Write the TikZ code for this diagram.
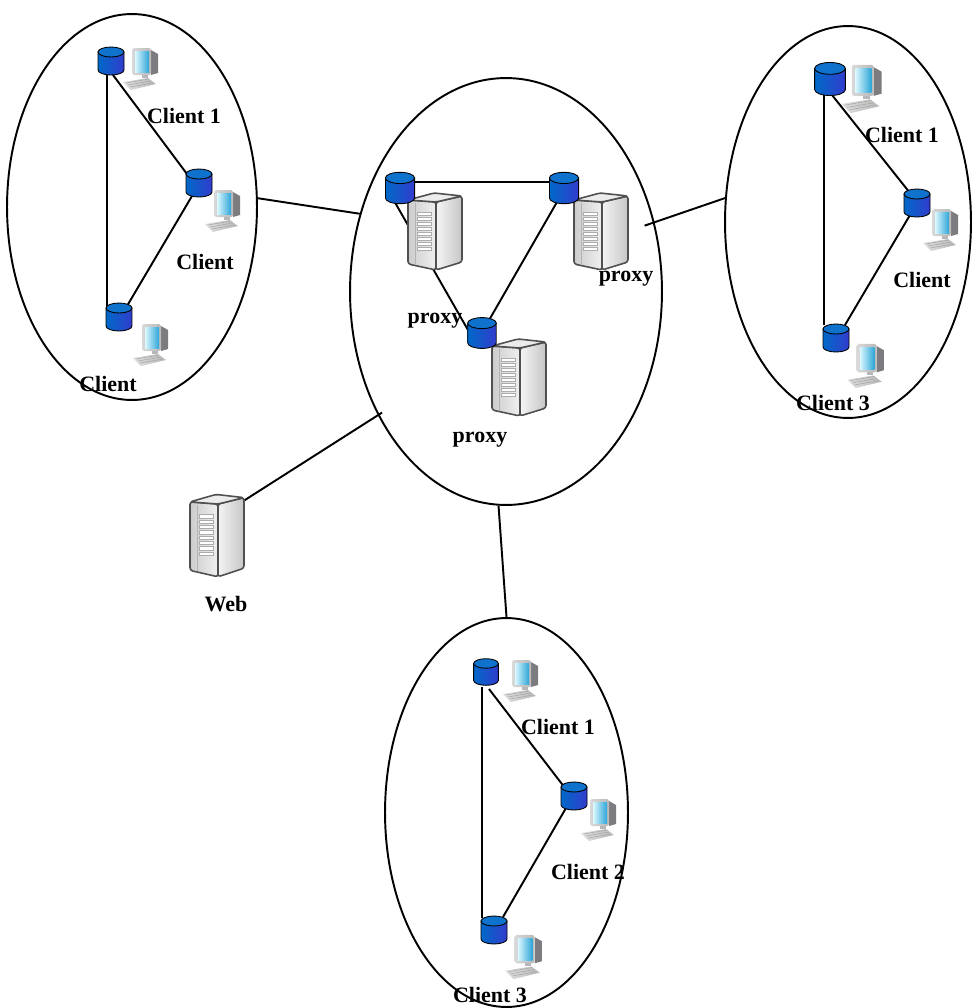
\documentclass[tikz,border=0pt]{standalone}
\usepackage{fontspec}
\setmainfont{Liberation Serif}
\usetikzlibrary{shapes.geometric,calc}

\definecolor{dbtop}{RGB}{15,115,205}
\definecolor{dbleft}{RGB}{0,105,200}
\definecolor{dbright}{RGB}{50,60,205}
\definecolor{scrlight}{RGB}{220,248,255}
\definecolor{scrdark}{RGB}{45,165,215}
\definecolor{casing}{RGB}{165,165,170}
\definecolor{srvedge}{RGB}{80,80,80}

\tikzset{
  zone/.style={draw, ellipse, line width=1.1pt, inner sep=0pt},
  link/.style={line width=1.1pt},
  spot/.style={inner sep=0pt, minimum width=0.5cm, minimum height=0.56cm},
  srvspot/.style={inner sep=0pt, minimum width=1.04cm, minimum height=1.72cm},
  lbl/.style={inner sep=0pt, font=\fontsize{12.5}{14}\selectfont\bfseries},
  % blue database cylinder
  dbicon/.pic={
    \path[left color=dbleft, right color=dbright, draw=black, line width=0.5pt]
      (-13,-9) -- (-13,9) arc[start angle=180, end angle=0, x radius=13, y radius=5]
      -- (13,-9) -- cycle;
    \draw[fill=dbtop, line width=0.5pt] (0,-9) ellipse[x radius=13, y radius=5];
  },
  % desktop computer with keyboard
  pcicon/.pic={
    \fill[casing!75!black] (11,-19) -- (18,-15) -- (18,4) -- (11,6) -- cycle;
    \path[left color=gray!30, right color=gray!55, rounded corners=1pt]
      (-8,-21) rectangle (11,6);
    \path[left color=scrlight, right color=scrdark] (-5,-18) rectangle (9,3);
    \fill[casing!80] (2,6) rectangle (8,9);
    \path[left color=gray!25, right color=gray!55]
      (-17,13) -- (8,9) -- (16,15) -- (-9,21) -- cycle;
    \foreach \k in {0,1,2}
      \draw[gray!70, line width=0.3pt] (-14+2*\k,14+2*\k) -- (9+2*\k,10+2*\k);
  },
  % grey tower server
  servericon/.pic={
    \path[left color=gray!40, right color=gray!12, draw=srvedge, line width=0.9pt,
      line join=round, rounded corners=1.5pt]
      (-26,-30) -- (2,-28) -- (2,40) -- (-26,34) -- cycle;
    \path[left color=gray!8, right color=gray!45, draw=srvedge, line width=0.9pt,
      line join=round, rounded corners=1.5pt]
      (2,-28) -- (28,-34) -- (28,32) -- (2,40) -- cycle;
    \path[fill=gray!15, draw=srvedge, line width=0.9pt, line join=round,
      rounded corners=1.5pt]
      (-26,-30) -- (0,-37) -- (28,-34) -- (2,-28) -- cycle;
    \draw[gray!60, line width=0.5pt] (-19,-27) -- (-19,35);
    \foreach \k in {0,...,7}
      \draw[gray!65, fill=white, line width=0.4pt]
        (-17,-18+5*\k) rectangle (-3,-15+5*\k);
  }
}

\begin{document}
\begin{tikzpicture}[x=0.02cm, y=-0.02cm]
\useasboundingbox (0,0) rectangle (972,1008);

% the four network zones
\node[zone, minimum width=5.00cm, minimum height=7.72cm] (zl) at (132,207) {};
\node[zone, minimum width=6.24cm, minimum height=8.54cm] (zc) at (506,291.5) {};
\node[zone, minimum width=4.92cm, minimum height=7.84cm] (zr) at (848,222) {};
\node[zone, minimum width=4.86cm, minimum height=7.78cm] (zb) at (506.5,812.5) {};

% placeholders for the icons
\foreach \n/\x/\y in {l1/111/61, l2/199/183, l3/119/317,
                      ca/400/188, cb/564/188, cc/482/333,
                      r1/830/79, r2/917/203, r3/836/338,
                      b1/486/672, b2/574/796, b3/494/930}
  \node[spot] (\n) at (\x,\y) {};
\foreach \n/\x/\y in {lp1/140/69, lp2/222/211, lp3/150/345,
                      rp1/861/89, rp2/940/230, rp3/865/366,
                      bp1/520/681, bp2/598/820, bp3/523/957}
  \node[spot] (\n) at (\x,\y) {};
\foreach \n/\x/\y in {sa/434/230, sb/600/230, sc/518/376, web/216/534}
  \node[srvspot] (\n) at (\x,\y) {};

% links between zones
\draw[link] (zl.4) -- (zc.152);
\draw[link, shorten <=-0.21cm] (zc.25) -- (zr.169);
\draw[link] (zc.268) -- (zb.90);
\draw[link, shorten >=-0.1cm] ($(web.north east)+(0,11)$) -- (zc.224);

% links inside the zones
\draw[link] ($(l1)+(-4,14)$) -- ($(l3)+(-12,-9)$);
\draw[link] ($(l1)+(2,14)$) -- ($(l2)+(-9,-5)$);
\draw[link] ($(l2)+(-7,13)$) -- ($(l3)+(8,-11)$);

\draw[link] ($(ca)+(15,-6)$) -- ($(cb)+(-14,-6)$);
\draw[link] ($(ca)+(-7,11)$) -- ($(cc)+(-14,-3)$);
\draw[link] ($(cb)+(-7,14)$) -- ($(cc)+(6,-11)$);

\draw[link] ($(r1)+(-6,14)$) -- ($(r3)+(-12,-13)$);
\draw[link] ($(r1)+(2,16)$) -- ($(r2)+(-7,-10)$);
\draw[link] ($(r2)+(-7,12)$) -- ($(r3)+(9,-13)$);

\draw[link] ($(b1)+(-4,15)$) -- ($(b3)+(-12,-12)$);
\draw[link] ($(b1)+(3,17)$) -- ($(b2)+(-9,-8)$);
\draw[link] ($(b2)+(-8,12)$) -- ($(b3)+(9,-13)$);

% icons
\foreach \n/\s in {sa/1, sb/1, sc/1}
  \pic[scale=\s] at (\n) {servericon};
\pic[yscale=1.07] at (web) {servericon};
\foreach \n/\s in {l1/1, l2/1, l3/1, ca/1.12, cb/1.12, cc/1.1,
                   r1/1.18, r2/1, r3/1, b1/0.95, b2/1, b3/1}
  \pic[scale=\s] at (\n) {dbicon};
\foreach \n/\s in {lp1/1, lp2/1, lp3/1, rp1/1.15, rp2/1, rp3/1.05,
                   bp1/1, bp2/1, bp3/1.05}
  \pic[scale=\s] at (\n) {pcicon};

% labels
\node[lbl] (t1) at (184,116) {Client 1};
\node[lbl] (t2) at (205,262) {Client};
\node[lbl] (t3) at (108,384) {Client};
\node[lbl] (t4) at (435,321) {proxy};
\node[lbl] (t5) at (626,279) {proxy};
\node[lbl] (t6) at (480,440) {proxy};
\node[lbl] (t7) at (902,135) {Client 1};
\node[lbl] (t8) at (922,280) {Client};
\node[lbl] (t9) at (833,403) {Client 3};
\node[lbl] (t10) at (558,727) {Client 1};
\node[lbl] (t11) at (588,872) {Client 2};
\node[lbl] (t12) at (490,995) {Client 3};
\node[lbl] (t13) at (226,604) {Web};
\end{tikzpicture}
\end{document}
